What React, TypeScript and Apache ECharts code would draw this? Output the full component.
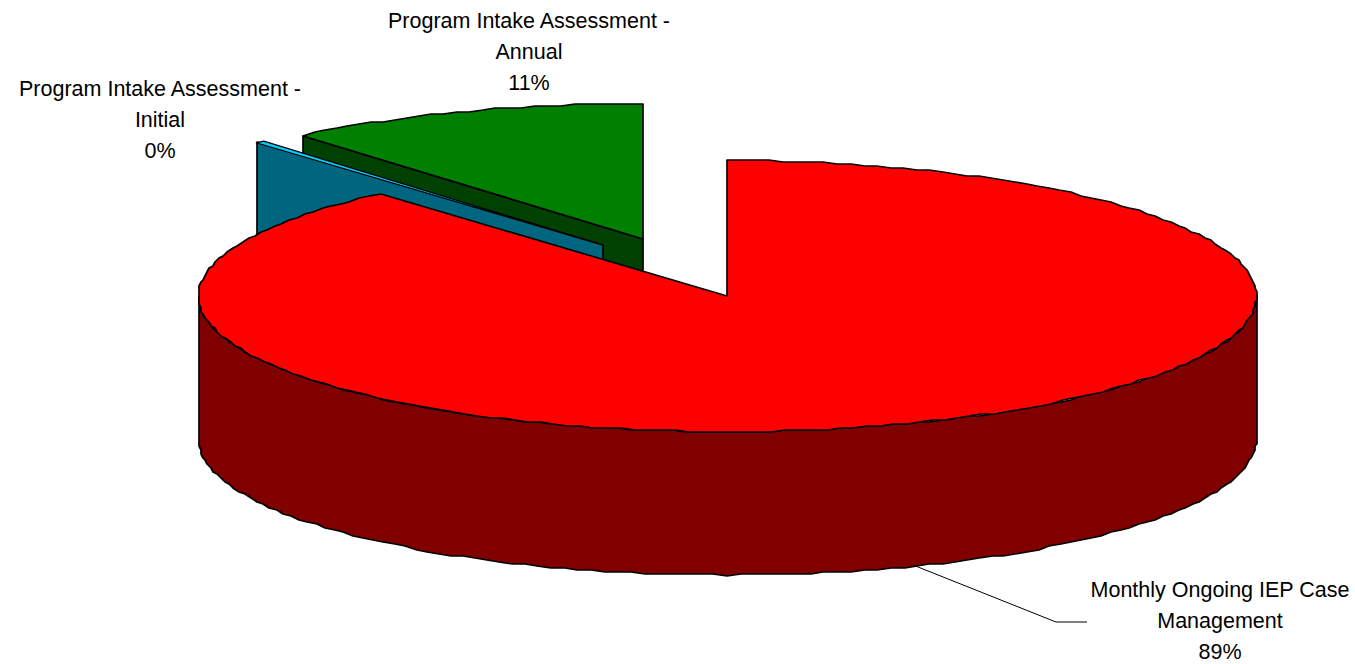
import React, { useEffect, useRef } from "react";
import * as echarts from "echarts";

const categories = [
  "Monthly Ongoing IEP Case\nManagement",
  "Program Intake Assessment -\nInitial",
  "Program Intake Assessment -\nAnnual",
];
const values = [88.6, 0.3, 11.1];

const topColors = ["#ff0000", "#00ccff", "#008000"];
const sideColors = ["#800000", "#006680", "#004000"];
const apexes = [[727, 296], [603, 245], [643, 239]];
const labelAnchors = [[1220, 621], [160, 120], [529, 52]];
const layerOrder = [30, 20, 10];

const RX = 529;
const RY = 135.5;
const DEPTH = 143.5;
const STEP = 1.5;
const total = values.reduce((a, b) => a + b, 0);

function exactRim(apex: number[], deg: number, drop = 0) {
  const t = (deg * Math.PI) / 180;
  return [apex[0] + 0.5 + RX * Math.sin(t), apex[1] - RY * Math.cos(t) + drop];
}

function rim(apex: number[], deg: number, drop = 0) {
  const [x, y] = exactRim(apex, deg, drop);
  return [Math.round((x - 1) / 2) * 2 + 1, Math.round(y / 2) * 2];
}

function arc(apex: number[], from: number, to: number, drop = 0) {
  const n = Math.round((to - from) / STEP);
  if (n <= 1) return [exactRim(apex, from, drop), exactRim(apex, to, drop)];
  const pts: number[][] = [];
  for (let i = 0; i <= n; i++) pts.push(rim(apex, from + ((to - from) * i) / n, drop));
  return pts;
}

function renderSlice(params: any, api: any) {
  const i = params.dataIndex;
  const start = (values.slice(0, i).reduce((a, b) => a + b, 0) / total) * 360;
  const end = start + (api.value(0) / total) * 360;
  const apex = apexes[i];
  const z = layerOrder[i];
  const line = { stroke: "#000", lineWidth: 1.7, lineJoin: "round" };
  const children: any[] = [];

  if (start > 180) {
    const p = rim(apex, start);
    children.push({
      type: "polygon",
      z2: z,
      shape: { points: [apex, p, [p[0], p[1] + DEPTH], [apex[0], apex[1] + DEPTH]] },
      style: { fill: sideColors[i], ...line },
    });
  }
  const wallFrom = Math.max(start, 90);
  const wallTo = Math.min(end, 270);
  if (wallTo > wallFrom) {
    children.push({
      type: "polygon",
      z2: z + 1,
      shape: { points: [...arc(apex, wallFrom, wallTo), ...arc(apex, wallFrom, wallTo, DEPTH).reverse()] },
      style: { fill: sideColors[i], ...line },
    });
  }
  children.push({
    type: "polygon",
    z2: z + 2,
    shape: { points: [apex, ...arc(apex, start, end)] },
    style: { fill: topColors[i], ...line, lineWidth: values[i] < 1 ? 1.2 : 1.7 },
  });
  const [lx, ly] = labelAnchors[i];
  children.push({
    type: "text",
    z2: 50,
    style: {
      text: `${categories[i]}\n${Math.round((api.value(0) / total) * 100)}%`,
      x: lx,
      y: ly,
      textAlign: "center",
      textVerticalAlign: "middle",
      fontFamily: "Liberation Sans",
      fontSize: 21.5,
      lineHeight: 31,
      fill: "#000",
    },
  });
  if (i === 0) {
    children.push({
      type: "polyline",
      z2: 40,
      shape: { points: [[913, 565], [1056, 622], [1087, 622]] },
      style: { stroke: "#000", lineWidth: 1, fill: "none" },
    });
  }
  return { type: "group", children };
}

export default function App() {
  const ref = useRef<HTMLDivElement>(null);
  useEffect(() => {
    const chart = echarts.init(ref.current!, null, { renderer: "svg" });
    chart.setOption({
      animation: false,
      backgroundColor: "#ffffff",
      series: [
        {
          type: "custom",
          coordinateSystem: "none",
          clip: false,
          silent: true,
          data: values.map((v, i) => ({ name: categories[i], value: [v] })),
          renderItem: renderSlice,
        },
      ],
    });
    return () => chart.dispose();
  }, []);
  return <div ref={ref} style={{ position: "absolute", left: 0, top: 0, width: 1355, height: 664 }} />;
}
